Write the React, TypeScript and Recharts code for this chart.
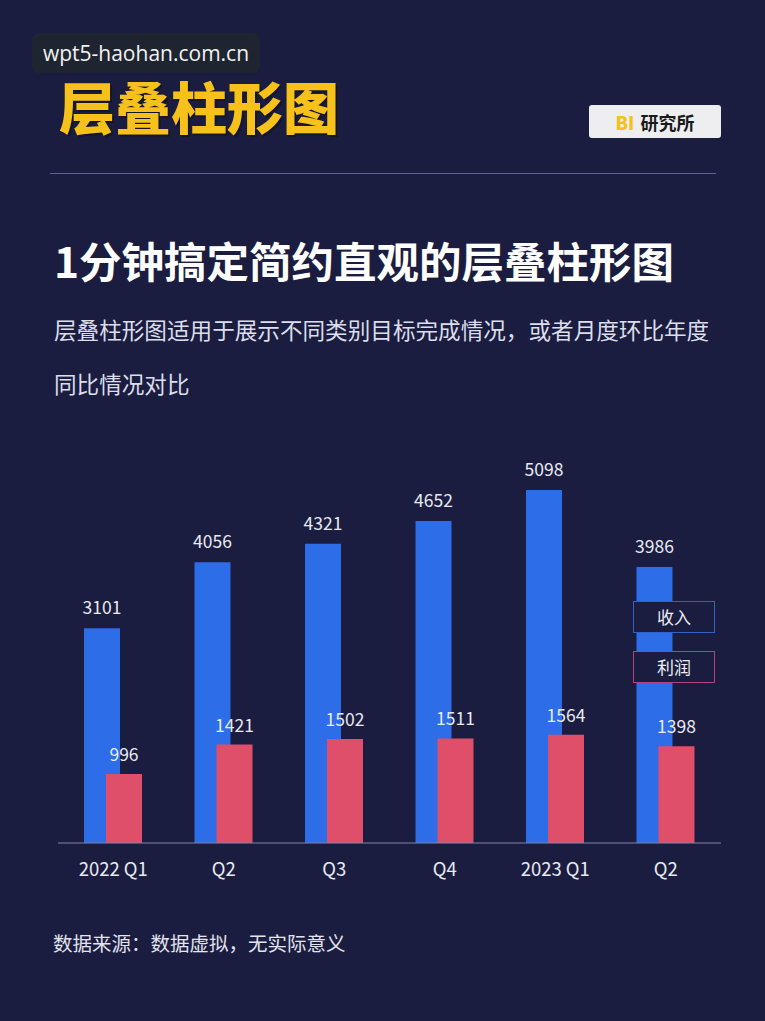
import { BarChart, Bar, XAxis, YAxis, LabelList, Legend } from 'recharts';

const quarters = ['2022 Q1', 'Q2', 'Q3', 'Q4', '2023 Q1', 'Q2'];
const revenue = [3101, 4056, 4321, 4652, 5098, 3986];
const profit = [996, 1421, 1502, 1511, 1564, 1398];

const chartData = quarters.map((q, i) => ({
  quarter: q,
  revenue: revenue[i],
  profit: profit[i],
}));

const BG = '#1b1d40';
const BLUE = '#2d6de8';
const RED = '#e04f69';
const FONT = '"Noto Sans CJK SC", "Noto Sans", sans-serif';

function LegendBoxes() {
  const items = [
    { label: '收入', border: '#3360c4' },
    { label: '利润', border: '#b8407a' },
  ];
  return (
    <div>
      {items.map((it, i) => (
        <div
          key={it.label}
          style={{
            boxSizing: 'border-box',
            width: 82,
            height: 32,
            marginBottom: i === 0 ? 18 : 0,
            border: `1.5px solid ${it.border}`,
            background: BG,
            color: '#eceef6',
            fontSize: 17,
            fontFamily: FONT,
            lineHeight: '29px',
            textAlign: 'center',
          }}
        >
          {it.label}
        </div>
      ))}
    </div>
  );
}

export default function App() {
  return (
    <div
      style={{
        position: 'absolute',
        left: 0,
        top: 0,
        width: 765,
        height: 1021,
        background: BG,
        fontFamily: FONT,
        overflow: 'hidden',
      }}
    >
      {/* watermark */}
      <div
        style={{
          position: 'absolute',
          left: 32,
          top: 33,
          width: 228,
          height: 40,
          borderRadius: 7,
          background: '#1f2530',
          color: '#f2f2f2',
          fontSize: 21,
          lineHeight: '40px',
          textAlign: 'center',
          fontFamily: '"Open Sans", "Noto Sans", sans-serif',
        }}
      >
        wpt5-haohan.com.cn
      </div>

      {/* big yellow title */}
      <div
        style={{
          position: 'absolute',
          left: 59,
          top: 70,
          fontSize: 56,
          fontWeight: 900,
          color: '#f5c11a',
          lineHeight: '70px',
          textShadow: '2px 2px 0 #15152a',
        }}
      >
        层叠柱形图
      </div>

      {/* BI badge */}
      <div
        style={{
          position: 'absolute',
          left: 589,
          top: 105,
          width: 132,
          height: 33,
          borderRadius: 3,
          background: '#eeeef0',
          display: 'flex',
          alignItems: 'center',
          justifyContent: 'center',
          fontSize: 18,
          fontWeight: 700,
          color: '#1a1a1a',
        }}
      >
        <span style={{ color: '#f2c21b', marginRight: 6, fontWeight: 900 }}>BI</span>
        研究所
      </div>

      {/* separator */}
      <div
        style={{
          position: 'absolute',
          left: 50,
          top: 173,
          width: 666,
          height: 1,
          background: '#5d6394',
        }}
      />

      {/* heading */}
      <div
        style={{
          position: 'absolute',
          left: 54,
          top: 232,
          fontSize: 42.5,
          fontWeight: 700,
          color: '#ffffff',
          lineHeight: '56px',
          whiteSpace: 'nowrap',
        }}
      >
        1分钟搞定简约直观的层叠柱形图
      </div>

      {/* description */}
      <div
        style={{
          position: 'absolute',
          left: 54,
          top: 303,
          width: 680,
          fontSize: 22.6,
          color: '#dcdeea',
          lineHeight: '54px',
          whiteSpace: 'nowrap',
        }}
      >
        层叠柱形图适用于展示不同类别目标完成情况，或者月度环比年度
        <br />
        同比情况对比
      </div>

      {/* chart */}
      <div style={{ position: 'absolute', left: 0, top: 400 }}>
        <BarChart
          width={765}
          height={500}
          data={chartData}
          margin={{ top: 27.6, right: 44, bottom: 17, left: 58 }}
          barSize={36}
          barGap={-14}
        >
          <XAxis
            dataKey="quarter"
            axisLine={{ stroke: '#7f84a8', strokeWidth: 1 }}
            tickLine={false}
            tickSize={0}
            tickMargin={20}
            height={40}
            interval={0}
            tick={{ fill: '#e8eaf2', fontSize: 18.5, fontFamily: FONT }}
          />
          <YAxis hide domain={[0, 6000]} />
          <Legend
            layout="vertical"
            align="center"
            verticalAlign="middle"
            content={<LegendBoxes />}
            wrapperStyle={{ position: 'absolute', left: 633, top: 201, width: 82 }}
          />
          <Bar dataKey="revenue" name="收入" fill={BLUE} isAnimationActive={false}>
            <LabelList
              dataKey="revenue"
              position="top"
              offset={14}
              fill="#e8eaf2"
              fontSize={17.5}
              fontFamily={FONT}
            />
          </Bar>
          <Bar dataKey="profit" name="利润" fill={RED} isAnimationActive={false}>
            <LabelList
              dataKey="profit"
              position="top"
              offset={13}
              fill="#e8eaf2"
              fontSize={17.5}
              fontFamily={FONT}
            />
          </Bar>
        </BarChart>
      </div>

      {/* footer */}
      <div
        style={{
          position: 'absolute',
          left: 53,
          top: 928,
          fontSize: 19.5,
          color: '#e2e4ee',
          lineHeight: '30px',
          whiteSpace: 'nowrap',
        }}
      >
        数据来源：数据虚拟，无实际意义
      </div>
    </div>
  );
}
